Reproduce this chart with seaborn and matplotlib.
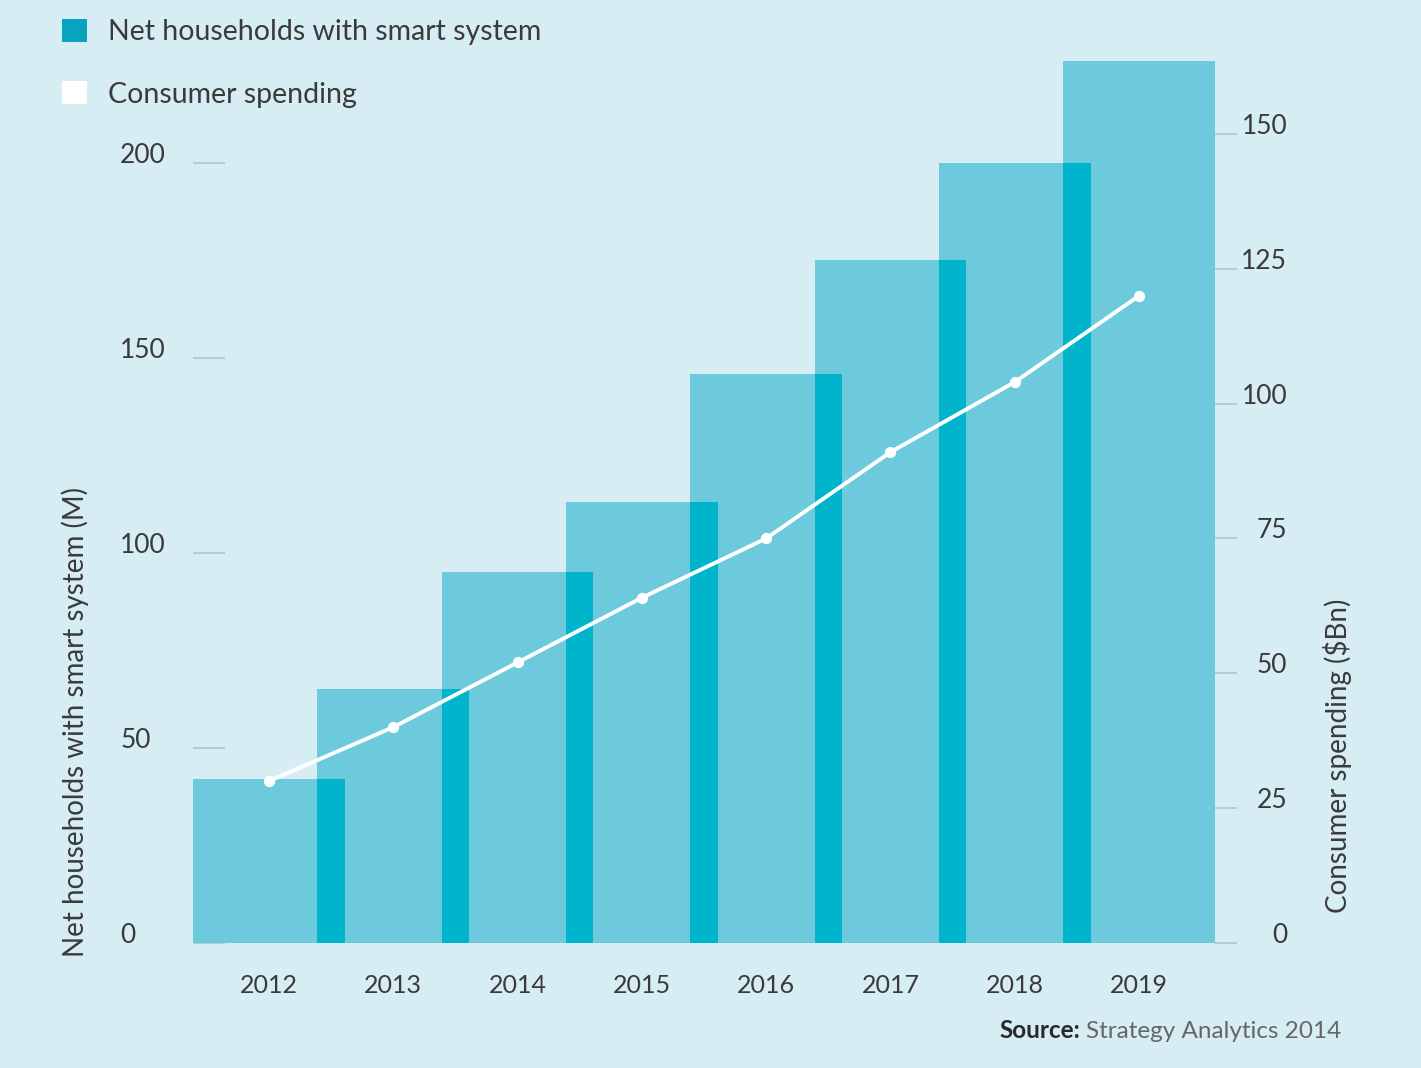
import numpy as np
import matplotlib
matplotlib.use("Agg")
import matplotlib.pyplot as plt
import seaborn as sns
from matplotlib.patches import Patch

# Data
years = ["2012", "2013", "2014", "2015", "2016", "2017", "2018", "2019"]
households = [42, 65, 95, 113, 146, 175, 200, 226]      # M, left axis
spending = [30, 40, 52, 64, 75, 91, 104, 120]           # $Bn, right axis
left_ticks = [0, 50, 100, 150, 200]
right_ticks = [0, 25, 50, 75, 100, 125, 150]

# Colours
bg = "#d6edf4"
bar_light = "#6dcadd"
bar_dark = "#00b4cb"
legend_dark = "#0aa3bf"
text_col = "#3a3a3a"
tick_col = "#b3cdd5"

sns.set_style("white", {"axes.facecolor": bg, "figure.facecolor": bg})
plt.rcParams["font.family"] = ["Lato", "DejaVu Sans"]

fig = plt.figure(figsize=(14.21, 10.68), dpi=100)
ax = fig.add_axes([193 / 1421, 1 - 943 / 1068, 1022 / 1421, 903 / 1068])

bar_w = 1.22
sns.barplot(x=years, y=households, ax=ax, color=bar_light, width=bar_w,
            saturation=1, edgecolor="none", zorder=2)

# darker strip where neighbouring bars overlap
h = np.array(households)
ax.bar(np.arange(len(years) - 1) + 0.5, np.minimum(h[:-1], h[1:]),
       width=bar_w - 1, color=bar_dark, zorder=3, linewidth=0)

ax.set_ylim(0, 231.5)
ax.set_yticks(left_ticks)
ax.set_xlim(-bar_w / 2, len(years) - 1 + bar_w / 2)
ax.set_xlabel("")
ax.set_ylabel("")
# left labels are left-aligned in the reference
ax.tick_params(axis="y", direction="in", length=23, width=1.5, color=tick_col,
               pad=52.5, labelsize=19, labelcolor=text_col)
ax.tick_params(axis="x", length=0, pad=22, labelsize=18, labelcolor=text_col)
for lbl in ax.get_yticklabels():
    lbl.set_verticalalignment("baseline")
    lbl.set_horizontalalignment("left")
sns.despine(ax=ax, left=True, bottom=True)

# Consumer spending line on second axis
ax2 = ax.twinx()
sns.pointplot(x=years, y=spending, ax=ax2, color="white", markers="o",
              markersize=6, linewidth=2.8)
ax2.set_ylim(0, 167.4)
ax2.set_yticks(right_ticks)
ax2.set_xlim(-bar_w / 2, len(years) - 1 + bar_w / 2)
ax2.set_ylabel("")
# right labels are right-aligned
ax2.tick_params(axis="y", direction="out", length=16, width=1.5, color=tick_col,
                pad=36, labelsize=19, labelcolor=text_col)
for lbl in ax2.get_yticklabels():
    lbl.set_verticalalignment("baseline")
    lbl.set_horizontalalignment("right")
for s in ax2.spines.values():
    s.set_visible(False)

# Axis titles
fig.text(75 / 1421, 1 - 722 / 1068, "Net households with smart system (M)",
         rotation=90, ha="center", va="center", fontsize=20, color=text_col)
fig.text(1338 / 1421, 1 - 756 / 1068, "Consumer spending ($Bn)",
         rotation=90, ha="center", va="center", fontsize=20, color=text_col)

# Legend
handles = [Patch(facecolor=legend_dark, edgecolor="none"),
           Patch(facecolor="white", edgecolor="none")]
fig.legend(handles, ["Net households with smart system", "Consumer spending"],
           loc="upper left", bbox_to_anchor=(62 / 1421, 1 - 19 / 1068),
           frameon=False, fontsize=20.5, handlelength=0.88, handleheight=0.88,
           handletextpad=0.74, labelspacing=1.25, borderpad=0, borderaxespad=0,
           labelcolor=text_col)

# Source note
fig.text(1080 / 1421, 1 - 1031 / 1068, "Source:", ha="right", va="center",
         fontsize=17.5, fontweight="bold", color="#2a2a2a")
fig.text(1086 / 1421, 1 - 1031 / 1068, "Strategy Analytics 2014", ha="left",
         va="center", fontsize=17.5, color="#666666")

fig.savefig("out.png", dpi=100, facecolor=bg)
